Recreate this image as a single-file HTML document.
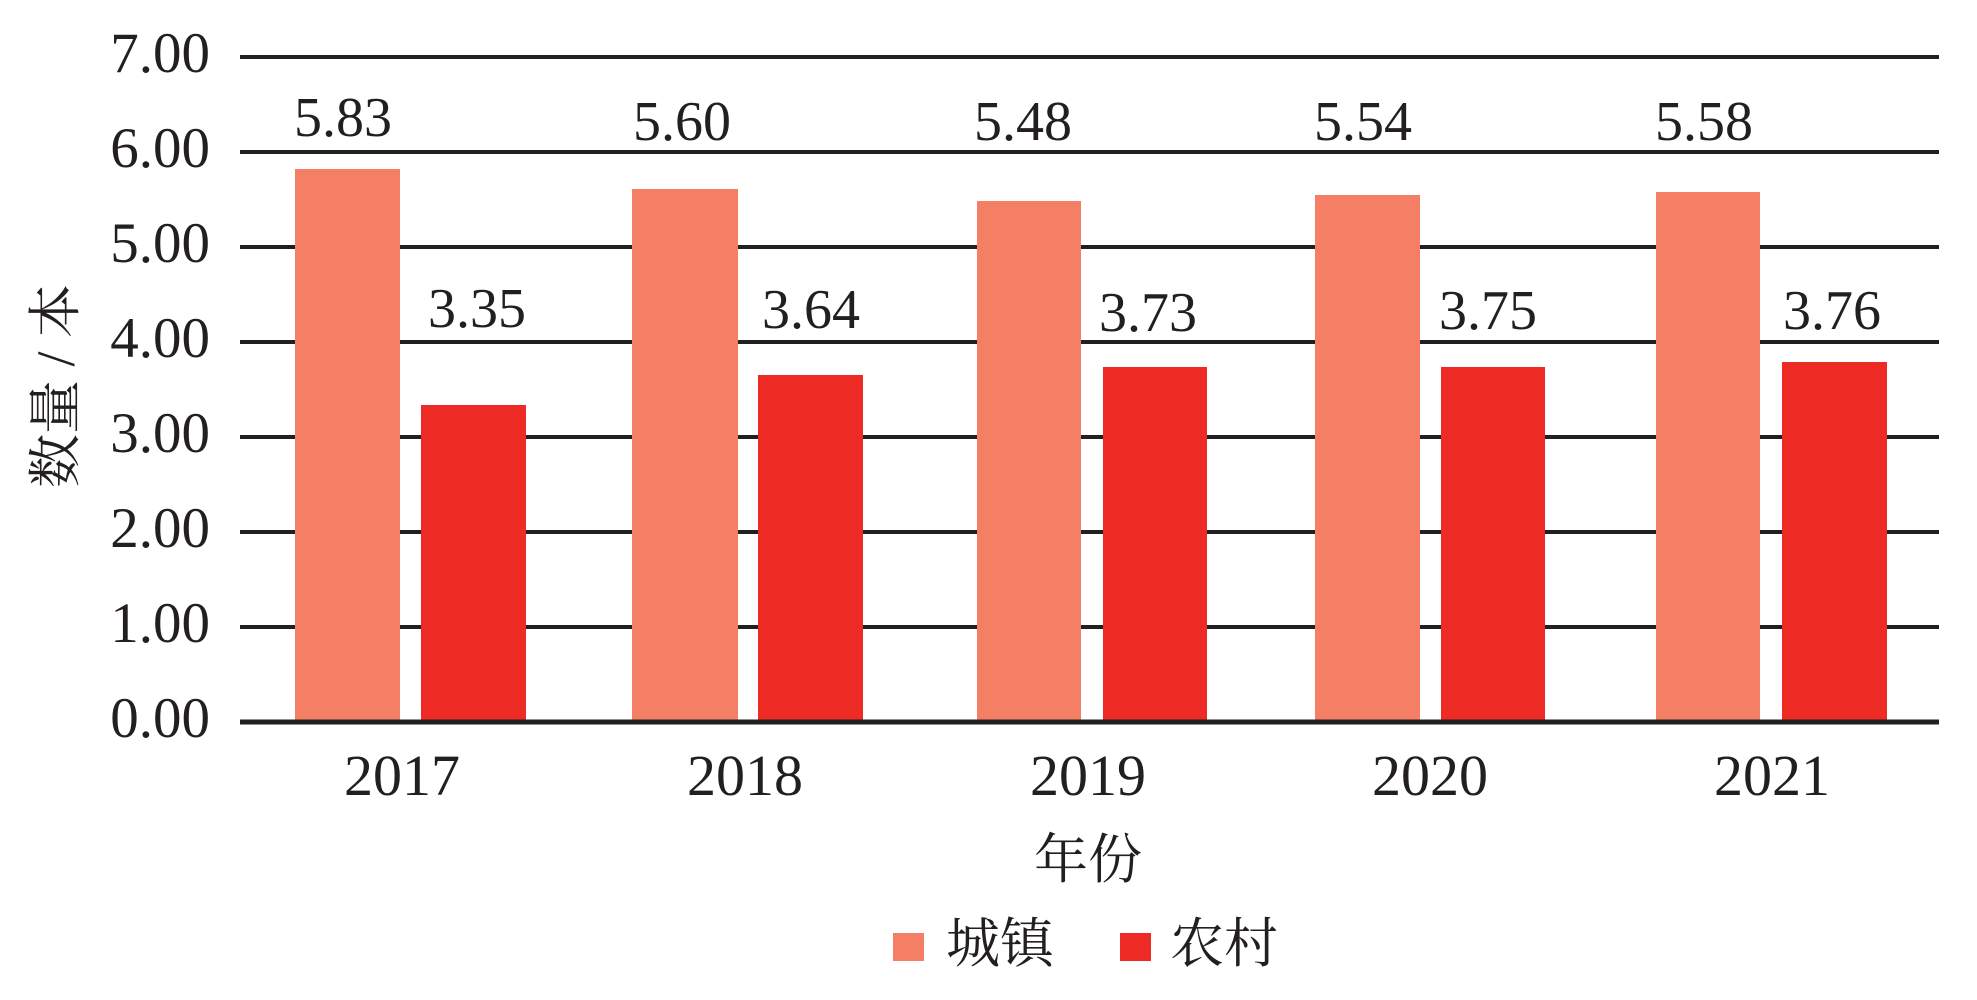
<!DOCTYPE html>
<html><head><meta charset="utf-8"><style>html,body{margin:0;padding:0;background:#fff}svg{display:block}</style></head>
<body>
<svg width="1977" height="1000" xmlns="http://www.w3.org/2000/svg" font-family="'Liberation Serif','Noto Serif CJK SC',serif" fill="#231f20">
<g stroke="#231f20" stroke-width="4">
<line x1="240" x2="1939" y1="57" y2="57"/>
<line x1="240" x2="1939" y1="152" y2="152"/>
<line x1="240" x2="1939" y1="247" y2="247"/>
<line x1="240" x2="1939" y1="342" y2="342"/>
<line x1="240" x2="1939" y1="437" y2="437"/>
<line x1="240" x2="1939" y1="532" y2="532"/>
<line x1="240" x2="1939" y1="627" y2="627"/>
</g>
<g fill="#F47F65">
<rect x="295" y="169" width="105" height="553"/>
<rect x="632" y="189" width="106" height="533"/>
<rect x="977" y="201" width="104" height="521"/>
<rect x="1315" y="195" width="105" height="527"/>
<rect x="1656" y="192" width="104" height="530"/>
<rect x="893" y="933" width="31" height="28"/>
</g>
<g fill="#EE2A24">
<rect x="421" y="405" width="105" height="317"/>
<rect x="758" y="375" width="105" height="347"/>
<rect x="1103" y="367" width="104" height="355"/>
<rect x="1441" y="367" width="104" height="355"/>
<rect x="1782" y="362" width="105" height="360"/>
<rect x="1120" y="933" width="31" height="28"/>
</g>
<line x1="240" x2="1939" y1="722" y2="722" stroke="#231f20" stroke-width="5"/>
<g font-size="57" text-anchor="end">
<text x="210" y="72">7.00</text>
<text x="210" y="167">6.00</text>
<text x="210" y="262">5.00</text>
<text x="210" y="357">4.00</text>
<text x="210" y="452">3.00</text>
<text x="210" y="547">2.00</text>
<text x="210" y="642">1.00</text>
<text x="210" y="737">0.00</text>
</g>
<g font-size="56" text-anchor="middle">
<text x="343" y="136">5.83</text>
<text x="682" y="140">5.60</text>
<text x="1023" y="140">5.48</text>
<text x="1363" y="140">5.54</text>
<text x="1704" y="140">5.58</text>
<text x="477" y="327">3.35</text>
<text x="811" y="328">3.64</text>
<text x="1148" y="331">3.73</text>
<text x="1488" y="329">3.75</text>
<text x="1832" y="329">3.76</text>
</g>
<g font-size="58" text-anchor="middle">
<text x="402" y="795">2017</text>
<text x="745" y="795">2018</text>
<text x="1088" y="795">2019</text>
<text x="1430" y="795">2020</text>
<text x="1772" y="795">2021</text>
</g>
<text x="1088" y="878" font-size="54" text-anchor="middle">年份</text>
<text x="946" y="962" font-size="54">城镇</text>
<text x="1170" y="962" font-size="54">农村</text>
<text transform="translate(74,386) rotate(-90)" font-size="54" text-anchor="middle">数量 / 本</text>
</svg>
</body></html>
